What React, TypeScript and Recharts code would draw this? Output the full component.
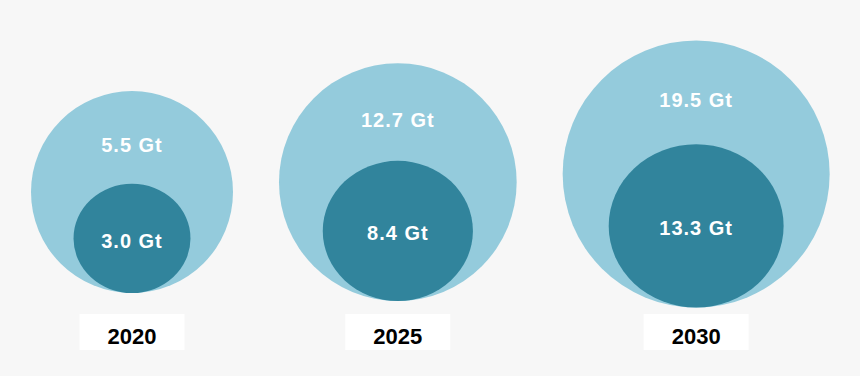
import React from "react";
import { ScatterChart, Scatter, XAxis, YAxis, ZAxis } from "recharts";

// values
const years = ["2020", "2025", "2030"];
const totalGt = [5.5, 12.7, 19.5];
const innerGt = [3.0, 8.4, 13.3];

const WIDTH = 860;
const HEIGHT = 376;
const PLOT_H = 312;

const OUTER_FILL = "#94cbdc";
const INNER_FILL = "#31849c";
const BG = "#f7f7f7";

// whole page gets the light grey backdrop
document.body.style.margin = "0";
document.body.style.background = BG;
document.documentElement.style.background = BG;

// bubble area ranges (px^2) for the two rings
const outerDomain: [number, number] = [Math.min(...totalGt), Math.max(...totalGt)];
const outerRange: [number, number] = [Math.PI * 101 * 101, Math.PI * 133.5 * 133.5];
const innerDomain: [number, number] = [Math.min(...innerGt), Math.max(...innerGt)];
const innerRange: [number, number] = [Math.PI * 56.5 * 56.5, Math.PI * 84.5 * 84.5];

const SQUASH = 1.035; // inner bubbles are a touch wider than tall
const LEFT = 31;
const GAP = 46;

const radiusFor = (v: number, dom: [number, number], rng: [number, number]) => {
    const area = rng[0] + ((v - dom[0]) / (dom[1] - dom[0])) * (rng[1] - rng[0]);
    return Math.sqrt(area / Math.PI);
};

//pack the bubbles side by side, inner bubble sits on the bottom of the outer one
let cursor = LEFT;
const outerData = years.map((year, i) => {
    const r = radiusFor(totalGt[i], outerDomain, outerRange);
    const cx = cursor + r;
    cursor += 2 * r + GAP;
    const cy = 248 - 0.554 * r;
    const ri = radiusFor(innerGt[i], innerDomain, innerRange);
    const innerTop = cy + r - 2 * (ri / SQUASH);
    return {
        x: cx,
        y: cy,
        z: totalGt[i],
        year,
        label: `${totalGt[i].toFixed(1)} Gt`,
        labelY: (cy - r + innerTop) / 2 + 7.5,
    };
});

const innerData = outerData.map((o, i) => {
    const r = radiusFor(totalGt[i], outerDomain, outerRange);
    const ri = radiusFor(innerGt[i], innerDomain, innerRange);
    return {
        x: o.x,
        y: o.y + r - ri / SQUASH,
        z: innerGt[i],
        label: `${innerGt[i].toFixed(1)} Gt`,
    };
});

const labelStyle = {
    fill: "#ffffff",
    fontSize: 20,
    fontWeight: 700,
    letterSpacing: 1,
};

const OuterBubble = (props: any) => {
    const { cx, cy, width, size, payload } = props;
    const r = width ? width / 2 : Math.sqrt(size / Math.PI);
    return (
        <g>
            <circle cx={cx} cy={cy} r={r} fill={OUTER_FILL} />
            <text x={cx} y={payload.labelY} textAnchor="middle" dominantBaseline="central" {...labelStyle}>
                {payload.label}
            </text>
        </g>
    );
};

const InnerBubble = (props: any) => {
    const { cx, cy, width, size, payload } = props;
    const r = width ? width / 2 : Math.sqrt(size / Math.PI);
    return (
        <g>
            <ellipse cx={cx} cy={cy} rx={r * SQUASH} ry={r / SQUASH} fill={INNER_FILL} />
            <text x={cx} y={cy + 2.5} textAnchor="middle" dominantBaseline="central" {...labelStyle}>
                {payload.label}
            </text>
        </g>
    );
};

const YearTick = (props: any) => {
    const { x, y, index } = props;
    const top = y + 2;
    return (
        <g>
            <rect x={x - 52.5} y={top} width={105} height={36} fill="#ffffff" />
            <text x={x} y={top + 30} textAnchor="middle" fill="#000000" fontSize={22} fontWeight={700}>
                {years[index]}
            </text>
        </g>
    );
};

export default function App() {
    return (
        <div
            style={{
                width: WIDTH,
                height: HEIGHT,
                background: BG,
                fontFamily: '"Liberation Sans", Arial, sans-serif',
            }}>
            <ScatterChart
                width={WIDTH}
                height={HEIGHT}
                margin={{ top: 0, right: 0, bottom: 0, left: 0 }}>
                <XAxis
                    type="number"
                    dataKey="x"
                    domain={[0, WIDTH]}
                    ticks={outerData.map(d => d.x)}
                    interval={0}
                    height={HEIGHT - PLOT_H}
                    axisLine={false}
                    tickLine={false}
                    tickSize={0}
                    tickMargin={0}
                    tick={<YearTick />} />
                <YAxis
                    type="number"
                    dataKey="y"
                    domain={[0, PLOT_H]}
                    reversed
                    hide />
                <ZAxis zAxisId="outer" type="number" dataKey="z" domain={outerDomain} range={outerRange} />
                <ZAxis zAxisId="inner" type="number" dataKey="z" domain={innerDomain} range={innerRange} />
                <Scatter
                    data={outerData}
                    zAxisId="outer"
                    shape={<OuterBubble />}
                    isAnimationActive={false} />
                <Scatter
                    data={innerData}
                    zAxisId="inner"
                    shape={<InnerBubble />}
                    isAnimationActive={false} />
            </ScatterChart>
        </div>
    );
}
